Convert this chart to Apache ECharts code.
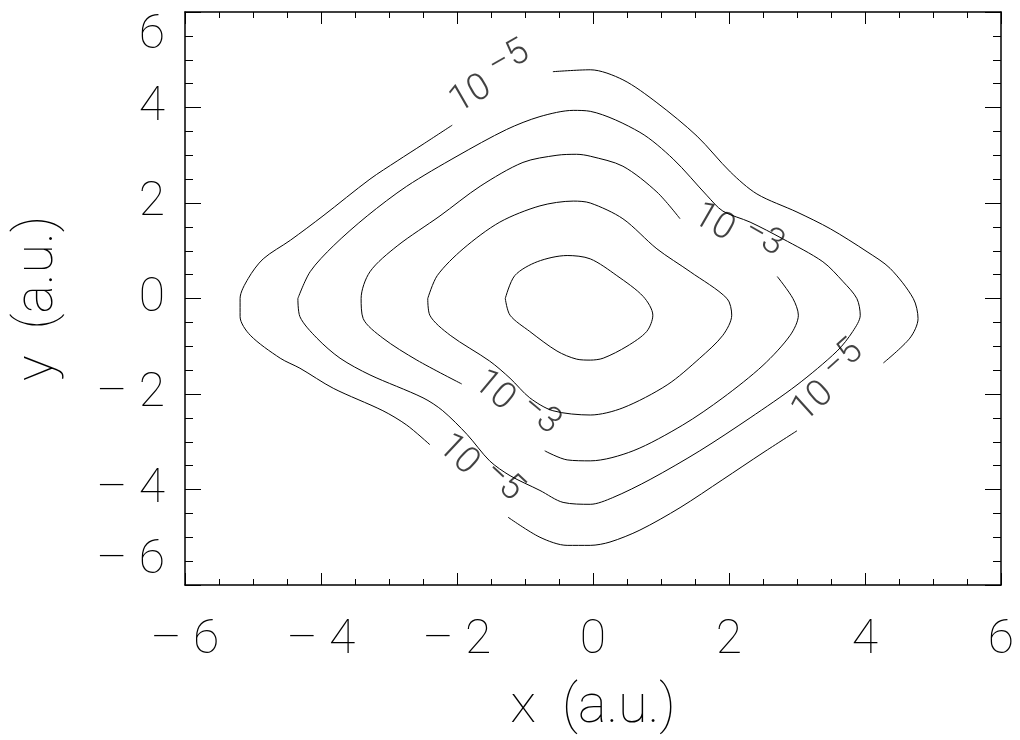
<!DOCTYPE html>
<html>
<head>
<meta charset="utf-8">
<title>contour</title>
<script src="https://cdn.jsdelivr.net/npm/echarts@6/dist/echarts.min.js"></script>
<style>
  html, body { margin: 0; padding: 0; background: #fff; }
  #main { width: 1020px; height: 740px; }
</style>
</head>
<body>
<div id="main"></div>
<script>
// contour lines, in a.u.  (outer -> inner)
// 10^-5 level, broken where its labels sit
const level5 = [
  [[-0.59, 4.75], [-0.04, 4.79], [0.44, 4.58], [0.94, 4.10], [1.53, 3.40], [2.02, 2.65], [2.41, 2.19],
   [3.00, 1.81], [3.49, 1.46], [4.03, 0.98], [4.37, 0.63], [4.71, 0.00], [4.78, -0.42], [4.66, -0.83], [4.27, -1.35]],
  [[3.00, -2.77], [2.50, -3.23], [1.91, -3.79], [1.28, -4.38], [0.69, -4.85], [0.25, -5.10], [-0.04, -5.17],
   [-0.38, -5.17], [-0.78, -5.00], [-1.25, -4.58]],
  [[-2.40, -3.06], [-2.74, -2.65], [-3.09, -2.35], [-3.82, -1.88], [-4.31, -1.46], [-4.60, -1.25], [-5.04, -0.77],
   [-5.19, -0.38], [-5.19, 0.00], [-5.07, 0.42], [-4.85, 0.83], [-4.45, 1.22], [-3.97, 1.73], [-3.28, 2.50],
   [-2.88, 2.88], [-2.50, 3.23], [-2.07, 3.63]]
]
const level4 = [
  [[-4.34, 0.00], [-4.31, -0.38], [-4.06, -0.83], [-3.72, -1.25], [-3.28, -1.60], [-2.50, -2.08], [-2.21, -2.35],
   [-1.85, -2.85], [-1.52, -3.40], [-1.22, -3.71], [-0.78, -4.02], [-0.44, -4.27], [-0.04, -4.31], [0.29, -4.17],
   [0.84, -3.79], [1.57, -3.19], [2.31, -2.50], [3.00, -1.81], [3.59, -1.10], [3.82, -0.69], [3.93, -0.35],
   [3.88, 0.00], [3.68, 0.35], [3.38, 0.77], [2.79, 1.25], [2.31, 1.60], [1.91, 1.83], [1.68, 2.15], [1.18, 2.92],
   [0.69, 3.48], [-0.04, 3.92], [-0.29, 3.94], [-0.78, 3.81], [-1.27, 3.54], [-2.00, 2.98], [-2.74, 2.35],
   [-3.32, 1.73], [-3.82, 1.10], [-4.16, 0.56], [-4.34, 0.00]]
]
// 10^-3 level
const level3 = [
  [[2.71, 0.46], [2.94, 0.00], [3.02, -0.35], [2.90, -0.77], [2.50, -1.40], [1.91, -2.08], [1.32, -2.65],
   [0.59, -3.19], [-0.04, -3.40], [-0.38, -3.38], [-0.71, -3.19]],
  [[-1.93, -1.79], [-2.59, -1.29], [-3.09, -0.83], [-3.38, -0.42], [-3.41, 0.00], [-3.28, 0.56], [-2.88, 1.10],
   [-2.25, 1.73], [-1.66, 2.35], [-1.03, 2.85], [-0.53, 3.00], [-0.24, 3.02], [-0.04, 2.98], [0.44, 2.77],
   [0.94, 2.23], [1.28, 1.67]]
]
const level2 = [
  [[-2.43, 0.00], [-2.29, 0.48], [-1.91, 1.04], [-1.37, 1.60], [-0.78, 1.94], [-0.29, 2.04], [-0.04, 2.00],
   [0.44, 1.67], [0.94, 1.04], [1.43, 0.56], [1.97, 0.00], [2.04, -0.35], [1.91, -0.77], [1.57, -1.25],
   [1.09, -1.81], [0.44, -2.29], [-0.04, -2.44], [-0.59, -2.35], [-0.93, -2.08], [-1.22, -1.67], [-1.52, -1.31],
   [-2.10, -0.77], [-2.40, -0.35], [-2.43, 0.00]]
]
const level1 = [
  [[-1.29, 0.00], [-1.15, 0.48], [-0.82, 0.77], [-0.38, 0.90], [-0.04, 0.83], [0.35, 0.48], [0.74, 0.04],
   [0.88, -0.35], [0.79, -0.69], [0.50, -1.00], [0.15, -1.25], [-0.04, -1.29], [-0.24, -1.27], [-0.53, -1.10],
   [-0.93, -0.69], [-1.22, -0.35], [-1.29, 0.00]]
]

// contour labels
const labelPos = [[-1.47, 4.52], [2.09, 1.31], [3.52, -1.83], [-1.72, -3.65], [-1.18, -2.29]]
const labelAngle = [30, -30, 42, -43, -40]
const labelExp = ['\u22125', '\u22123', '\u22125', '\u22125', '\u22123']

const FONT = 'Roboto'
const chart = echarts.init(document.getElementById('main'))

const series = []
;[level5, level4, level3, level2, level1].forEach(function (level) {
  level.forEach(function (seg) {
    series.push({
      type: 'line',
      data: seg,
      showSymbol: false,
      smooth: 0.3,
      silent: true,
      lineStyle: { color: '#000', width: 1 }
    })
  })
})
series.push({
  type: 'scatter',
  symbolSize: 0,
  silent: true,
  data: labelPos.map(function (p, i) {
    return {
      value: p,
      label: { rotate: labelAngle[i] },
      exp: labelExp[i]
    }
  }),
  label: {
    show: true,
    position: 'inside',
    formatter: function (p) { return '{b|10}{s|' + p.data.exp + '}' },
    rich: {
      b: { fontFamily: FONT, fontWeight: 300, fontSize: 37, color: '#111', lineHeight: 36, verticalAlign: 'bottom', padding: [0, 10, 0, 0] },
      s: { fontFamily: FONT, fontWeight: 300, fontSize: 36, color: '#111', lineHeight: 36, verticalAlign: 'bottom', padding: [0, 0, 12, 0] }
    }
  }
})

// negative ticks: long dash, gap, digit
const tickFmt = function (v) { return v < 0 ? '\u2013 ' + Math.abs(v) : String(v) }
const labelStyle = { fontFamily: FONT, fontWeight: 100, fontSize: 48, color: '#000' }
const nameStyle = { fontFamily: FONT, fontWeight: 100, fontSize: 54, color: '#000' }

const option = {
  animation: false,
  grid: { left: 185, right: 19, top: 12, bottom: 153 },
  xAxis: [
    {
      type: 'value', min: -6, max: 6, interval: 2, position: 'bottom',
      axisLine: { onZero: false, lineStyle: { color: '#000', width: 1.5 } },
      axisTick: { inside: true, length: 12, lineStyle: { color: '#000' } },
      minorTick: { show: true, splitNumber: 4, length: 6, lineStyle: { color: '#000' } },
      splitLine: { show: false },
      axisLabel: Object.assign({ margin: 32, formatter: tickFmt }, labelStyle),
      name: 'x  (a.u.)', nameLocation: 'middle', nameGap: 96,
      nameTextStyle: nameStyle
    },
    {
      type: 'value', min: -6, max: 6, interval: 2, position: 'top',
      axisLine: { onZero: false, lineStyle: { color: '#000', width: 1.5 } },
      axisTick: { inside: true, length: 12, lineStyle: { color: '#000' } },
      minorTick: { show: true, splitNumber: 4, length: 6, lineStyle: { color: '#000' } },
      splitLine: { show: false },
      axisLabel: { show: false }
    }
  ],
  yAxis: [
    {
      type: 'value', min: -6, max: 6, interval: 2, position: 'left',
      axisLine: { onZero: false, lineStyle: { color: '#000', width: 1.5 } },
      axisTick: { inside: true, length: 16, lineStyle: { color: '#000' } },
      minorTick: { show: true, splitNumber: 4, length: 8, lineStyle: { color: '#000' } },
      splitLine: { show: false },
      axisLabel: Object.assign({ margin: 20, formatter: tickFmt, verticalAlignMaxLabel: 'top', verticalAlignMinLabel: 'bottom' }, labelStyle),
      name: 'y  (a.u.)', nameLocation: 'middle', nameGap: 120,
      nameTextStyle: nameStyle
    },
    {
      type: 'value', min: -6, max: 6, interval: 2, position: 'right',
      axisLine: { onZero: false, lineStyle: { color: '#000', width: 1.5 } },
      axisTick: { inside: true, length: 16, lineStyle: { color: '#000' } },
      minorTick: { show: true, splitNumber: 4, length: 8, lineStyle: { color: '#000' } },
      splitLine: { show: false },
      axisLabel: { show: false }
    }
  ],
  series: series
}
chart.setOption(option)
</script>
</body>
</html>
